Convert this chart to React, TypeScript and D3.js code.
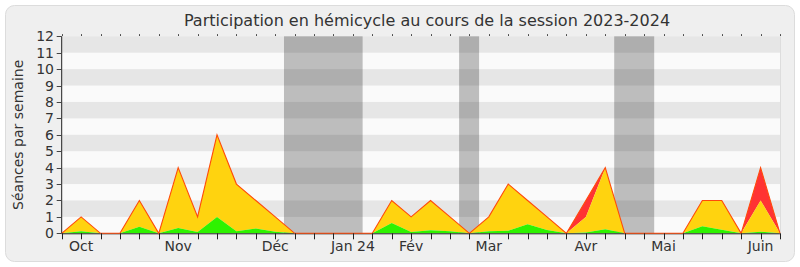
import React from "react";
import * as d3 from "d3";

const weeks = d3.range(38);
const totalSessions = [0,1,0,0,2,0,4,1,6,3,2,1,0,0,0,0,0,2,1,2,1,0,1,3,2,1,0,2,4,0,0,0,0,2,2,0,4,0];
const yellowTop = [0,1,0,0,2,0,4,1,6,3,2,1,0,0,0,0,0,2,1,2,1,0,1,3,2,1,0,1,4,0,0,0,0,2,2,0,2,0];
const greenTop = [0,0.12,0,0,0.4,0,0.33,0.08,1,0.12,0.3,0.1,0,0,0,0,0,0.63,0.08,0.18,0.12,0,0.12,0.15,0.55,0.2,0,0.05,0.25,0,0,0,0,0.43,0.22,0,0.1,0];
const monthLabels = ["Oct","Nov","Déc","Jan 24","Fév","Mar","Avr","Mai","Juin"];
const monthWeeks = [1,6,11,15,18,22,27,31,36];
const vacations: [number, number][] = [[11.45,15.5],[20.47,21.5],[28.46,30.52]];
const yTicks = d3.range(0, 13);

const W = 800, H = 267;
const left = 61.7, right = 780, top = 36.3, bottom = 233.3;
const FONT = "DejaVu Sans, Verdana, sans-serif";

export default function App() {
  const x = d3.scaleLinear().domain([0, 37]).range([left, right]);
  const y = d3.scaleLinear().domain([0, 12]).range([bottom, top]);

  const area = (lo: number[], hi: number[]) =>
    d3.area<number>().x((i) => x(i)).y0((i) => y(lo[i])).y1((i) => y(hi[i]))(weeks) || "";
  const zeros = weeks.map(() => 0);
  const line = d3.line<number>().x((i) => x(i)).y((i) => y(totalSessions[i]))(weeks) || "";

  const bands = d3.range(0, 12).filter((v) => v % 2 === 1);

  return (
    <svg width={W} height={H} style={{ position: "absolute", left: 0, top: 0 }} fontFamily={FONT}>
      <rect x={0} y={0} width={W} height={H} fill="#ffffff" />
      <rect x={5.5} y={5.5} width={789} height={256} rx={9} fill="#efefef" stroke="#dcdcdc" />
      <text x={427} y={26} textAnchor="middle" fontSize={16} fill="#333">
        Participation en hémicycle au cours de la session 2023-2024
      </text>
      <rect x={left} y={top} width={right - left} height={bottom - top} fill="#fafafa" />
      {bands.map((b) => (
        <rect key={b} x={left} y={y(b + 1)} width={right - left} height={y(b) - y(b + 1)} fill="#e6e6e6" />
      ))}
      {vacations.map(([a, b], k) => (
        <rect key={k} x={x(a)} y={top} width={x(b) - x(a)} height={bottom - top} fill="#000" fillOpacity={0.245} />
      ))}
      <line x1={right + 0.5} x2={right + 0.5} y1={top} y2={bottom} stroke="#dddddd" />
      <path d={area(yellowTop, totalSessions)} fill="#ff3333" />
      <path d={area(greenTop, yellowTop)} fill="#ffd30f" />
      <path d={area(zeros, greenTop)} fill="#2ef200" />
      {/* axes */}
      <line x1={left} x2={left} y1={top} y2={bottom} stroke="#222" />
      <line x1={left} x2={right} y1={bottom + 0.5} y2={bottom + 0.5} stroke="#222" />
      <path d={line} fill="none" stroke="#ff4a0a" strokeWidth={1.1} />
      {yTicks.map((t) => (
        <g key={t}>
          <line x1={left - 5} x2={left} y1={Math.round(y(t)) + 0.5} y2={Math.round(y(t)) + 0.5} stroke="#444" />
          <text x={54} y={y(t) + 5} textAnchor="end" fontSize={14} fill="#333">{t}</text>
        </g>
      ))}
      {weeks.map((i) => (
        <g key={i}>
          <line x1={Math.round(x(i)) + 0.5} x2={Math.round(x(i)) + 0.5} y1={bottom} y2={bottom + 6} stroke="#222" />
          <line x1={Math.round(x(i)) + 0.5} x2={Math.round(x(i)) + 0.5} y1={top - 2} y2={top - 0.5} stroke="#222" />
        </g>
      ))}
      {monthLabels.map((m, k) => (
        <text key={m} x={x(monthWeeks[k])} y={251} textAnchor="middle" fontSize={14} fill="#333">{m}</text>
      ))}
      <text transform={`translate(23,${(top + bottom) / 2}) rotate(-90)`} textAnchor="middle" fontSize={14} fill="#333">
        Séances par semaine
      </text>
    </svg>
  );
}
